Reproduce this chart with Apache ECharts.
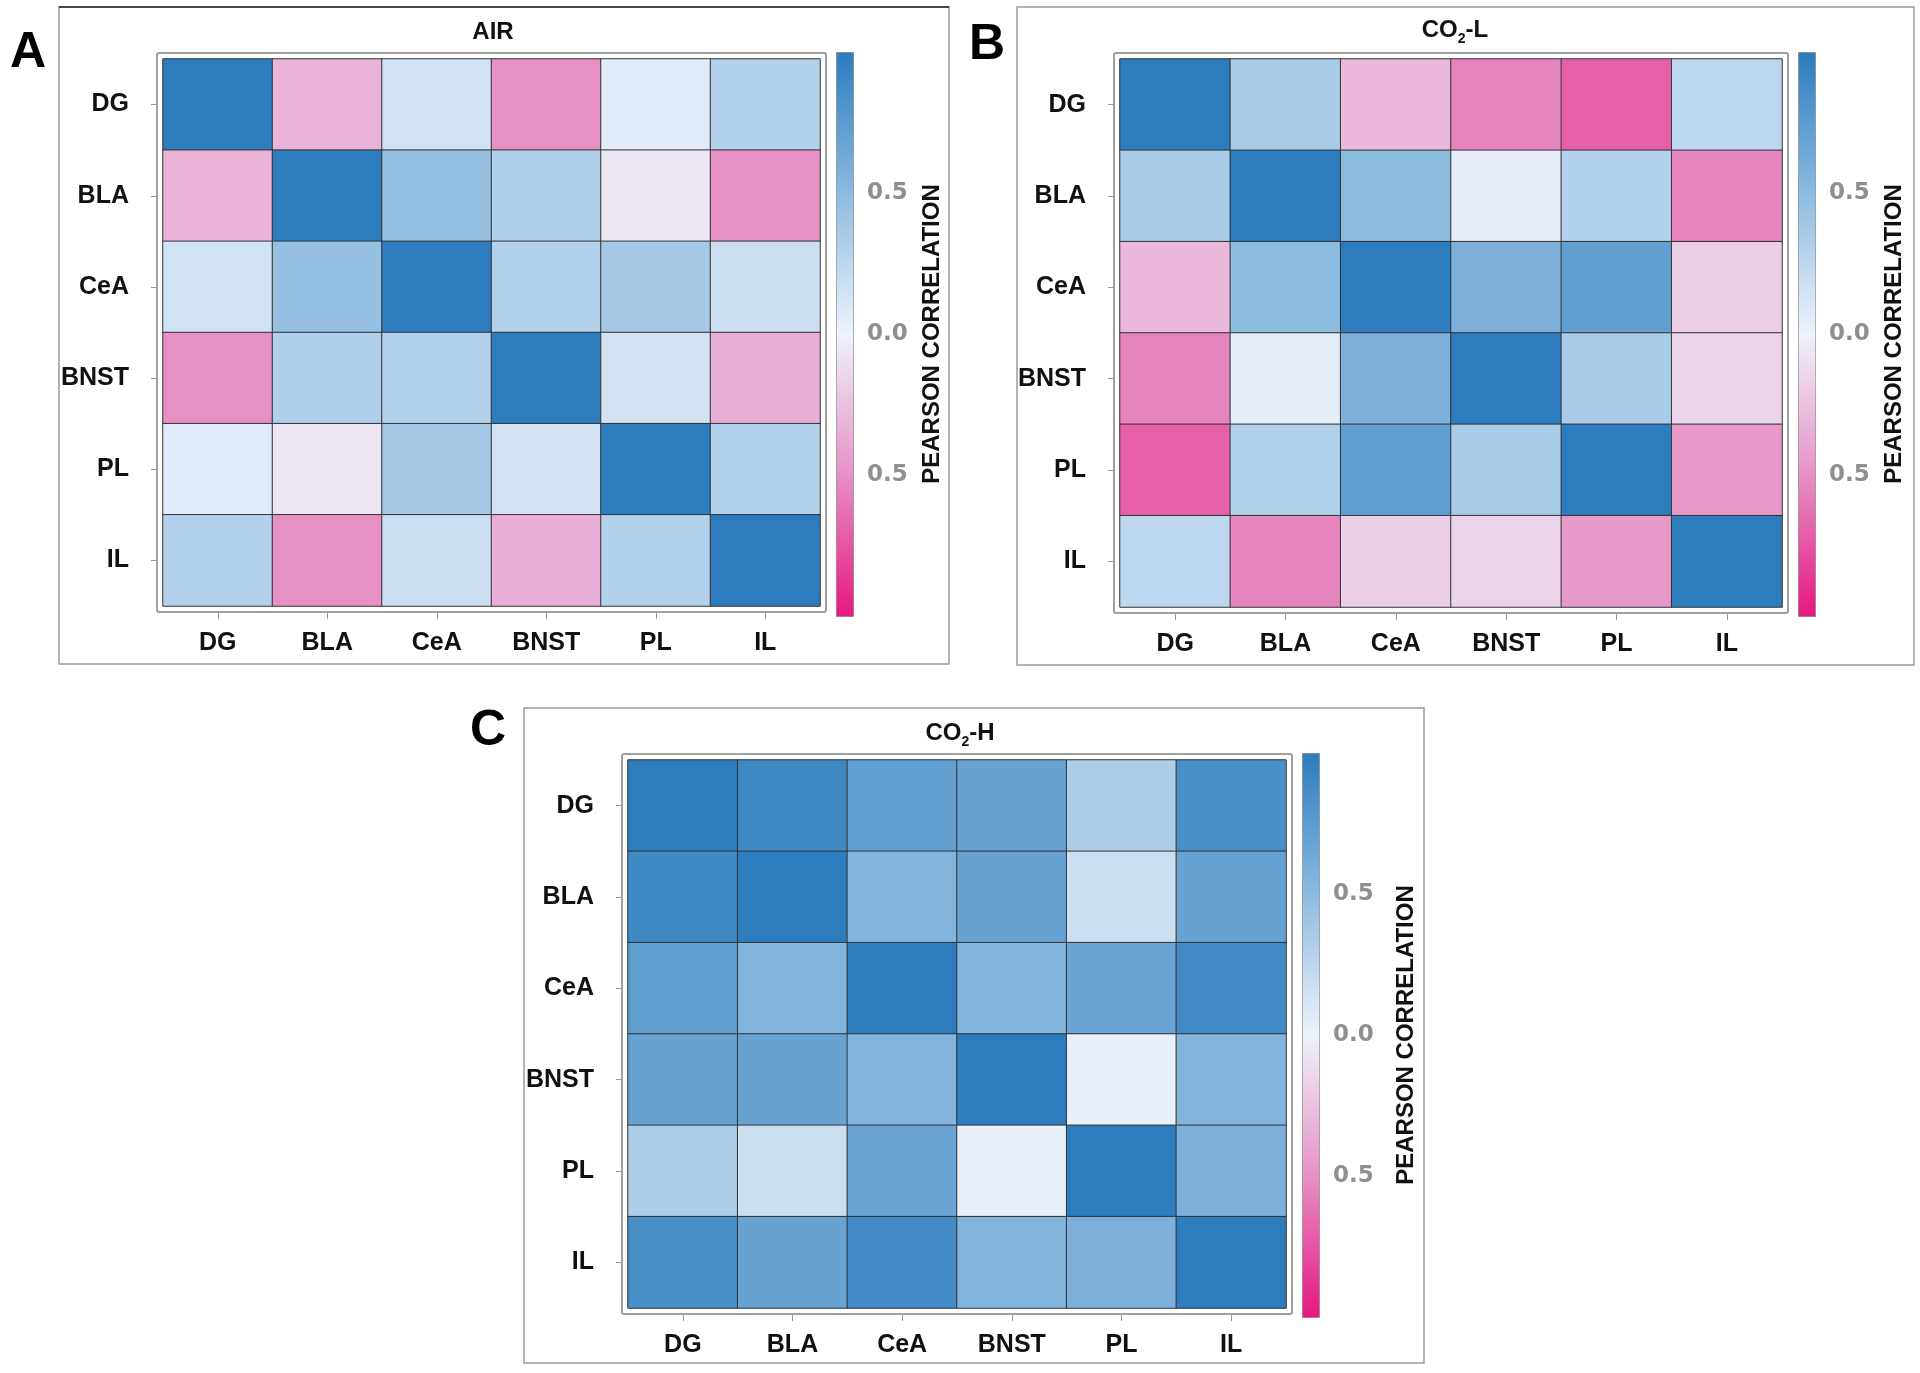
<!DOCTYPE html>
<html>
<head>
<meta charset="utf-8">
<title>Pearson correlation heatmaps</title>
<script src="https://cdn.jsdelivr.net/npm/echarts/dist/echarts.min.js"></script>
<style>
  html, body { margin: 0; padding: 0; background: #fff; }
  #chart { width: 1920px; height: 1373px; }
</style>
</head>
<body>
<div id="chart"></div>
<script>
// brain regions, same order on both axes
var regions = ['DG', 'BLA', 'CeA', 'BNST', 'PL', 'IL'];

// A - AIR
var airCorr = [
  [1.00, -0.32, 0.15, -0.50, 0.06, 0.30],
  [-0.32, 1.00, 0.45, 0.32, -0.06, -0.50],
  [0.15, 0.45, 1.00, 0.30, 0.38, 0.18],
  [-0.50, 0.32, 0.30, 1.00, 0.14, -0.35],
  [0.06, -0.06, 0.38, 0.14, 1.00, 0.30],
  [0.30, -0.50, 0.18, -0.35, 0.30, 1.00]
];

// B - CO2-L
var co2LCorr = [
  [1.00, 0.35, -0.30, -0.55, -0.70, 0.25],
  [0.35, 1.00, 0.50, 0.05, 0.30, -0.55],
  [-0.30, 0.50, 1.00, 0.58, 0.72, -0.18],
  [-0.55, 0.05, 0.58, 1.00, 0.35, -0.15],
  [-0.70, 0.30, 0.72, 0.35, 1.00, -0.45],
  [0.25, -0.55, -0.18, -0.15, -0.45, 1.00]
];

// C - CO2-H
var co2HCorr = [
  [1.00, 0.90, 0.72, 0.70, 0.33, 0.85],
  [0.90, 1.00, 0.55, 0.70, 0.18, 0.70],
  [0.72, 0.55, 1.00, 0.55, 0.68, 0.88],
  [0.70, 0.70, 0.55, 1.00, 0.03, 0.55],
  [0.33, 0.18, 0.68, 0.03, 1.00, 0.58],
  [0.85, 0.70, 0.88, 0.55, 0.58, 1.00]
];

// colour bar ticks
var cbTicks = [-0.5, 0, 0.5];
var cbMin = -1;
var cbMax = 1;

// -1 .. 1, evenly spaced stops
var scaleColors = ['#e6187f', '#e690c4', '#eef3fb', '#8cbbe0', '#2c7cbe'];
var fontFam = '"Liberation Sans", Arial, sans-serif';

var panels = [
  { letter: 'A', title: '{a|AIR}', data: airCorr,
    cellL: 163, cellT: 59, cellW: 657, cellH: 547, nameGap: 67,
    box: [59, 7, 890, 657], letterPos: [10, 53], titlePos: [493, 32] },
  { letter: 'B', title: '{a|CO}{s|2}{a|-L}', data: co2LCorr,
    cellL: 1120, cellT: 59, cellW: 662, cellH: 548, nameGap: 67,
    box: [1017, 7, 897, 658], letterPos: [969, 45], titlePos: [1455, 30] },
  { letter: 'C', title: '{a|CO}{s|2}{a|-H}', data: co2HCorr,
    cellL: 628, cellT: 760, cellW: 658, cellH: 548, nameGap: 75,
    box: [524, 708, 900, 655], letterPos: [470, 731], titlePos: [960, 733] }
];

function toCells(m) {
  var out = [];
  for (var i = 0; i < m.length; i++) {
    for (var j = 0; j < m[i].length; j++) {
      out.push([j, i, m[i][j]]);
    }
  }
  return out;
}

var option = {
  animation: false,
  backgroundColor: '#fff',
  grid: [],
  xAxis: [],
  yAxis: [],
  series: [],
  visualMap: [],
  graphic: []
};

panels.forEach(function (p, i) {
  var cbL = p.cellL + p.cellW + 16;
  var cbT = p.cellT - 7;

  option.grid.push({ left: p.cellL, top: p.cellT, width: p.cellW, height: p.cellH });
  option.grid.push({ left: cbL, top: cbT, width: 17, height: 564 });

  // heatmap axes
  option.xAxis.push({
    type: 'category', gridIndex: 2 * i, data: regions, position: 'bottom', offset: 7,
    axisLine: { show: false },
    axisTick: { show: true, length: 6, alignWithLabel: true, lineStyle: { color: '#999' } },
    axisLabel: { margin: 18, fontSize: 25, fontWeight: 'bold', color: '#111', fontFamily: fontFam },
    splitLine: { show: false }
  });
  option.yAxis.push({
    type: 'category', gridIndex: 2 * i, data: regions, inverse: true, offset: 6,
    axisLine: { show: false },
    axisTick: { show: true, length: 6, alignWithLabel: true, lineStyle: { color: '#999' } },
    axisLabel: { margin: 28, fontSize: 25, fontWeight: 'bold', color: '#111', fontFamily: fontFam },
    splitLine: { show: false }
  });

  // colour bar axes
  option.xAxis.push({ type: 'value', gridIndex: 2 * i + 1, show: false, min: 0, max: 1 });
  option.yAxis.push({
    type: 'value', gridIndex: 2 * i + 1, position: 'right', min: cbMin, max: cbMax,
    axisLine: { show: false },
    axisTick: { show: true, length: 6, customValues: cbTicks, lineStyle: { color: '#999', width: 1.5 } },
    axisLabel: {
      customValues: cbTicks, margin: 14, fontSize: 23, fontWeight: 'bold', color: '#8f8f8f',
      fontFamily: '"DejaVu Sans", sans-serif',
      formatter: function (v) { return Math.abs(v).toFixed(1); }
    },
    splitLine: { show: false },
    name: 'PEARSON CORRELATION', nameLocation: 'middle', nameRotate: 90, nameGap: p.nameGap,
    nameTextStyle: { fontSize: 24, fontWeight: 'bold', color: '#111', fontFamily: fontFam }
  });

  option.series.push({
    type: 'heatmap', xAxisIndex: 2 * i, yAxisIndex: 2 * i,
    data: toCells(p.data),
    itemStyle: { borderColor: '#333', borderWidth: 1 },
    emphasis: { disabled: true },
    label: { show: false }
  });

  option.visualMap.push({
    type: 'continuous', seriesIndex: i, min: cbMin, max: cbMax,
    left: cbL, top: cbT, itemWidth: 17, itemHeight: 564,
    padding: 0, calculable: false, hoverLink: false,
    borderColor: '#888', borderWidth: 1,
    inRange: { color: scaleColors }
  });

  // panel box
  option.graphic.push({
    type: 'rect', z: -1,
    shape: { x: p.box[0], y: p.box[1], width: p.box[2], height: p.box[3] },
    style: { fill: 'none', stroke: '#9a9a9a', lineWidth: 1.5 }
  });
  // frame around plot area
  option.graphic.push({
    type: 'rect', z: -1,
    shape: { x: p.cellL - 6, y: p.cellT - 6, width: p.cellW + 12, height: p.cellH + 12, r: 2 },
    style: { fill: 'none', stroke: '#a0a0a0', lineWidth: 2 }
  });
  // panel letter
  option.graphic.push({
    type: 'text',
    style: {
      text: p.letter, x: p.letterPos[0], y: p.letterPos[1],
      verticalAlign: 'middle', fill: '#000',
      font: 'bold 50px ' + fontFam
    }
  });
  // panel title
  option.graphic.push({
    type: 'text',
    style: {
      text: p.title, x: p.titlePos[0], y: p.titlePos[1],
      align: 'center', verticalAlign: 'middle',
      rich: {
        a: { fontSize: 24, fontWeight: 'bold', fontFamily: fontFam, fill: '#111', lineHeight: 32, verticalAlign: 'middle' },
        s: { fontSize: 14, fontWeight: 'bold', fontFamily: fontFam, fill: '#111', lineHeight: 14, verticalAlign: 'bottom' }
      }
    }
  });
});

// darker top edge on panel A
option.graphic.push({
  type: 'line', shape: { x1: 59, y1: 7, x2: 949, y2: 7 },
  style: { stroke: '#222', lineWidth: 1.5 }
});

var myChart = echarts.init(document.getElementById('chart'));
myChart.setOption(option);
</script>
</body>
</html>
